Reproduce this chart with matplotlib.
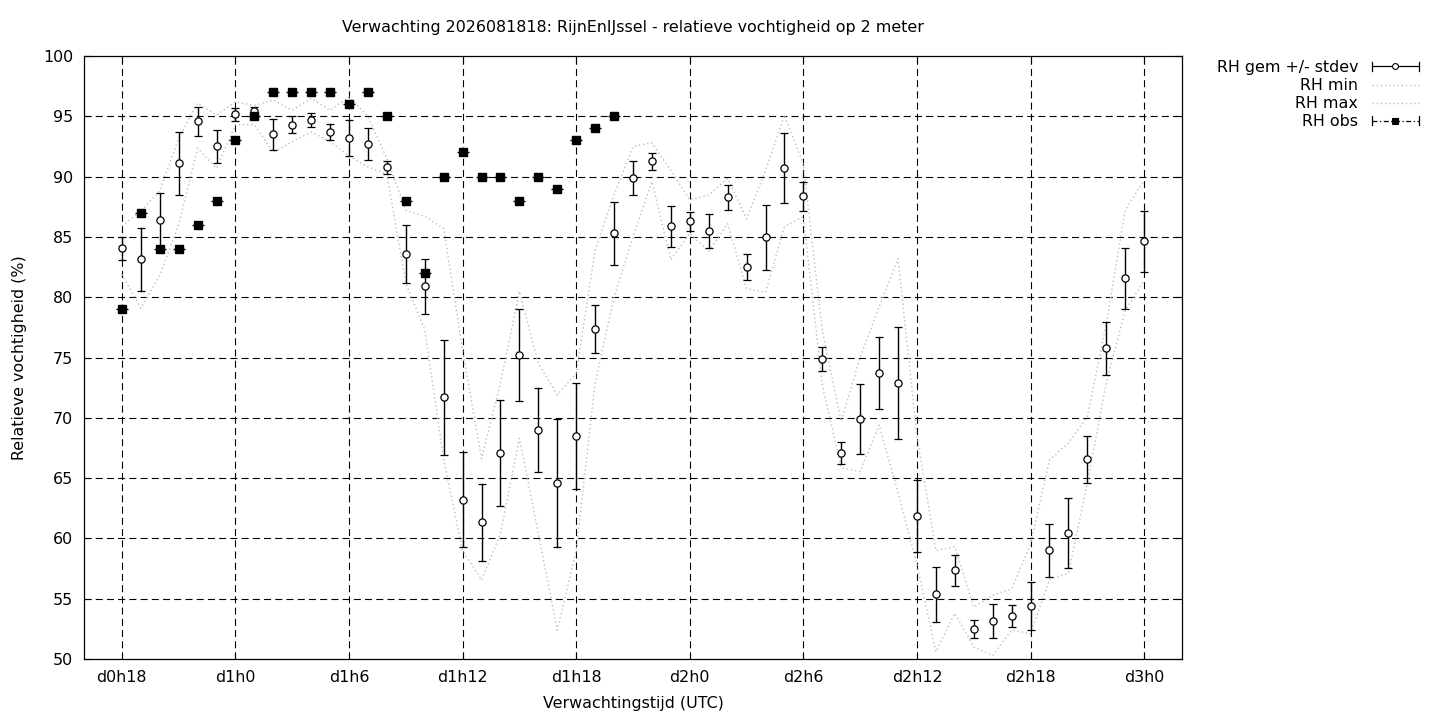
#!/usr/bin/env python3
"""
plot.py - RH ensemble forecast vs observations (gnuplot look-alike)
"""
import numpy as np
import matplotlib
matplotlib.use("Agg")
import matplotlib.pyplot as plt
from matplotlib.lines import Line2D
from matplotlib.legend_handler import HandlerBase

# ── Data ───────────────────────────────────────────────────────────────────────
# forecast hours since d0h0 (hourly from d0h18 to d3h0)
fc_hours = list(range(18, 73))
rh_mean = [84.05, 83.15, 86.4, 91.1, 94.6, 92.5, 95.15, 95.4, 93.5, 94.3,
           94.7, 93.7, 93.2, 92.7, 90.77, 83.6, 80.9, 71.7, 63.2, 61.35,
           67.05, 75.2, 69.0, 64.6, 68.5, 77.35, 85.3, 89.9, 91.27, 85.87,
           86.28, 85.46, 88.28, 82.5, 84.96, 90.7, 88.36, 74.88, 67.06, 69.87,
           73.7, 72.86, 61.86, 55.36, 57.35, 52.46, 53.13, 53.56, 54.4, 59.0,
           60.42, 66.56, 75.76, 81.57, 84.63]
rh_std = [0.95, 2.6, 2.2, 2.6, 1.2, 1.35, 0.5, 0.4, 1.3, 0.7,
          0.55, 0.7, 1.5, 1.3, 0.55, 2.4, 2.3, 4.75, 3.95, 3.2,
          4.4, 3.8, 3.5, 5.3, 4.4, 2.0, 2.6, 1.4, 0.7, 1.7,
          0.77, 1.4, 1.05, 1.05, 2.7, 2.9, 1.2, 1.0, 0.9, 2.9,
          3.0, 4.65, 3.0, 2.3, 1.3, 0.75, 1.4, 0.9, 2.0, 2.2,
          2.9, 1.96, 2.2, 2.55, 2.5]
rh_min = [81.9, 79.1, 81.8, 86.0, 92.35, 90.7, 94.3, 94.3, 92.0, 92.9,
          93.7, 92.9, 91.7, 90.8, 90.2, 81.15, 77.3, 66.5, 59.0, 56.55,
          60.4, 68.3, 60.4, 52.4, 59.0, 72.9, 80.0, 85.0, 89.6, 83.1,
          85.3, 83.8, 86.1, 80.7, 80.4, 85.85, 86.7, 72.7, 65.85, 65.55,
          69.4, 63.8, 57.85, 50.6, 53.8, 51.0, 50.3, 52.4, 52.1, 56.6,
          57.1, 64.6, 72.9, 78.9, 81.4]
rh_max = [85.9, 87.1, 88.8, 93.2, 96.1, 95.1, 96.2, 95.9, 96.35, 95.5,
          96.5, 95.5, 96.6, 95.0, 91.5, 87.2, 86.7, 85.7, 75.6, 66.6,
          72.9, 80.5, 74.5, 71.9, 73.7, 83.9, 88.5, 92.5, 92.8, 90.5,
          88.06, 88.47, 89.86, 86.5, 90.5, 95.1, 91.0, 77.2, 69.7, 75.0,
          79.2, 83.2, 68.5, 59.0, 59.3, 54.3, 55.3, 55.8, 59.5, 66.5,
          67.9, 70.1, 77.8, 87.2, 89.7]

obs_hours = list(range(18, 45))
rh_obs = [79, 87, 84, 84, 86, 88, 93, 95, 97, 97, 97, 97, 96, 97, 95,
          88, 82, 90, 92, 90, 90, 88, 90, 89, 93, 94, 95]

xtick_hours = [18, 24, 30, 36, 42, 48, 54, 60, 66, 72]
xtick_labels = ['d0h18', 'd1h0', 'd1h6', 'd1h12', 'd1h18',
                'd2h0', 'd2h6', 'd2h12', 'd2h18', 'd3h0']

TITLE = 'Verwachting 2026081818: RijnEnIJssel - relatieve vochtigheid op 2 meter'

# ── Style ──────────────────────────────────────────────────────────────────────
FS = 11.4
plt.rcParams.update({'font.family': 'DejaVu Sans', 'font.size': FS})
GREY = '#bdbdbd'
DOTS = (0, (1, 2))


class GnuHandler(HandlerBase):
    """gnuplot-like legend sample: line with end caps and a marker in the middle."""
    def __init__(self, ls='-', marker=None, mfc='white', caps=True):
        super().__init__()
        self.ls, self.marker, self.mfc, self.caps = ls, marker, mfc, caps

    def create_artists(self, legend, orig_handle, xdescent, ydescent,
                       width, height, fontsize, trans):
        x0, x1 = -xdescent, width - xdescent
        y = (height - ydescent) / 2.0
        c = 3.2
        arts = []
        if self.caps:
            col, lw = 'black', 0.9
        else:
            col, lw = GREY, 1.0
        arts.append(Line2D([x0, x1], [y, y], ls=self.ls, color=col, lw=lw,
                           transform=trans))
        if self.caps:
            arts.append(Line2D([x0, x0], [y - c, y + c], color='black', lw=0.9,
                               transform=trans))
            arts.append(Line2D([x1, x1], [y - c, y + c], color='black', lw=0.9,
                               transform=trans))
        if self.marker:
            arts.append(Line2D([(x0 + x1) / 2], [y], ls='none', marker=self.marker,
                               ms=4.2, mfc=self.mfc, mec='black', mew=0.8,
                               transform=trans))
        return arts


fig = plt.figure(figsize=(14.4, 7.2), dpi=100)
ax = fig.add_axes([84 / 1440, 1 - 659 / 720, (1182 - 84) / 1440, (659 - 56) / 720])

# grid
for h in xtick_hours:
    ax.axvline(h, color='black', lw=0.8, dashes=(6.3, 3.8), zorder=0)
for v in range(55, 100, 5):
    ax.axhline(v, color='black', lw=0.8, dashes=(6.3, 3.8), zorder=0)

# min / max envelopes
l_min, = ax.plot(fc_hours, rh_min, ls=DOTS, color=GREY, lw=1.0, zorder=1)
l_max, = ax.plot(fc_hours, rh_max, ls=DOTS, color=GREY, lw=1.0, zorder=1)

# mean +/- stdev
eb = ax.errorbar(fc_hours, rh_mean, yerr=rh_std, fmt='o', color='black',
                 ms=5.2, mfc='white', mec='black', mew=0.9, elinewidth=1.0,
                 capsize=3, capthick=1.0, zorder=3)

# observations
ax.plot(obs_hours, rh_obs, ls='none', marker='_', ms=9, mew=1.0, color='black', zorder=4)
l_obs, = ax.plot(obs_hours, rh_obs, ls='none', marker='s', ms=6,
                 color='black', zorder=4)

ax.set_xlim(16, 74)
ax.set_ylim(50, 100)
ax.set_xticks(xtick_hours)
ax.set_xticklabels(xtick_labels)
ax.set_yticks(range(50, 101, 5))
ax.tick_params(direction='in', length=5, width=0.8, top=True, right=True,
               labelsize=FS)
ax.tick_params(axis='y', pad=8)
ax.tick_params(axis='x', pad=8)
for s in ax.spines.values():
    s.set_linewidth(0.9)

ax.set_xlabel('Verwachtingstijd (UTC)', fontsize=FS, labelpad=8)
ax.set_ylabel('Relatieve vochtigheid (%)', fontsize=FS, labelpad=11)
ax.set_title(TITLE, fontsize=FS, pad=17)

h_mean = Line2D([], [], color='black')
h_min = Line2D([], [], color=GREY)
h_max = Line2D([], [], color=GREY)
h_obs = Line2D([], [], color='black')
leg = fig.legend([h_mean, h_min, h_max, h_obs],
                 ['RH gem +/- stdev', 'RH min', 'RH max', 'RH obs'],
                 handler_map={h_mean: GnuHandler('-', 'o', 'white'),
                              h_min: GnuHandler(DOTS, None, caps=False),
                              h_max: GnuHandler(DOTS, None, caps=False),
                              h_obs: GnuHandler((0, (4, 2, 1, 2)), 's', 'black')},
                 loc='upper right', bbox_to_anchor=(1427 / 1440, 1 - 52 / 720),
                 frameon=False, markerfirst=False, handlelength=3.0,
                 handletextpad=0.85, labelspacing=0.2, borderpad=0,
                 fontsize=FS)

fig.savefig('out.png', dpi=100)
plt.close(fig)
